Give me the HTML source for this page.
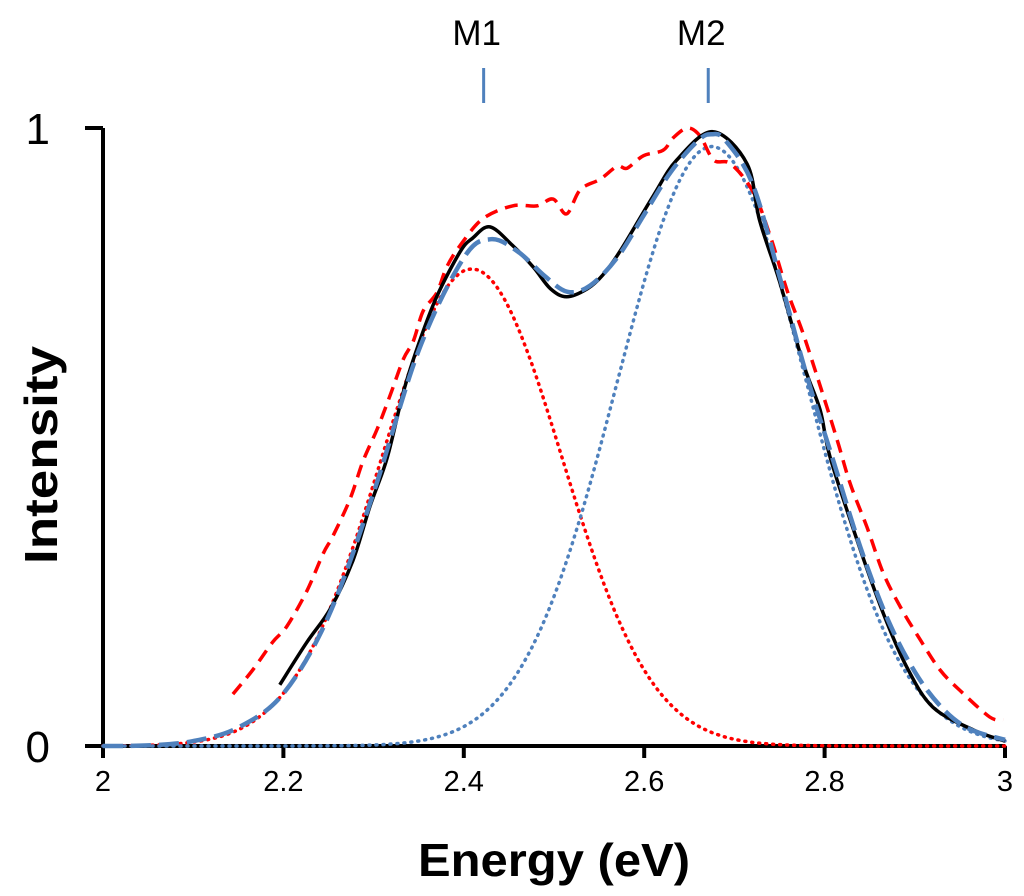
<!DOCTYPE html>
<html><head><meta charset="utf-8"><style>
html,body{margin:0;padding:0;background:#fff;}
svg{display:block;font-family:"Liberation Sans",sans-serif;}
</style></head><body>
<svg id="chart" width="1024" height="896" viewBox="0 0 1024 896">
<g id="plot"></g>
</svg>
<script>
const xTicks=[2,2.2,2.4,2.6,2.8,3];
const xTickLabels=["2","2.2","2.4","2.6","2.8","3"];
const yTicks=[0,1];
const yTickLabels=["0","1"];
const markerNames=["M1","M2"];
const markerPositions=[2.422,2.671];
const dataX=[2.196,2.226,2.252,2.277,2.296,2.315,2.333,2.351,2.37,2.396,2.41,2.429,2.454,2.477,2.496,2.514,2.537,2.554,2.573,2.61,2.636,2.676,2.714,2.728,2.75,2.776,2.795,2.806,2.836,2.865,2.891,2.92,2.965,3.0];
const dataY=[0.099,0.168,0.222,0.30,0.388,0.466,0.573,0.655,0.727,0.80,0.822,0.84,0.81,0.775,0.74,0.727,0.74,0.762,0.80,0.89,0.948,0.994,0.942,0.85,0.752,0.62,0.544,0.468,0.333,0.215,0.128,0.063,0.026,0.008];
const fitX=[2.0,2.05,2.1,2.15,2.2,2.25,2.3,2.35,2.4,2.43,2.46,2.49,2.515,2.54,2.57,2.6,2.63,2.66,2.675,2.69,2.72,2.75,2.78,2.81,2.84,2.87,2.9,2.93,2.96,3.0];
const fitY=[0.0,0.001,0.008,0.03,0.085,0.21,0.41,0.64,0.79,0.82,0.80,0.76,0.735,0.745,0.79,0.86,0.93,0.98,0.99,0.98,0.91,0.76,0.60,0.46,0.32,0.205,0.12,0.062,0.028,0.01];
const refX=[2.144,2.166,2.188,2.204,2.226,2.244,2.255,2.274,2.288,2.304,2.318,2.333,2.344,2.355,2.37,2.381,2.396,2.421,2.454,2.481,2.499,2.514,2.529,2.551,2.57,2.581,2.599,2.621,2.632,2.648,2.662,2.677,2.696,2.721,2.74,2.758,2.776,2.795,2.814,2.828,2.847,2.865,2.884,2.906,2.928,2.95,2.983,2.998];
const refY=[0.084,0.123,0.168,0.194,0.251,0.311,0.34,0.40,0.46,0.513,0.566,0.626,0.655,0.704,0.733,0.775,0.81,0.853,0.874,0.874,0.885,0.861,0.90,0.917,0.938,0.935,0.955,0.964,0.984,1.0,0.987,0.948,0.942,0.896,0.824,0.739,0.668,0.583,0.495,0.426,0.354,0.28,0.225,0.172,0.123,0.09,0.047,0.042];
const peakCenters=[2.409,2.675];
const peakAmps=[0.772,0.97];
const peakWidths=[0.0996,0.105];

const X0=103,X1=1005,Y0=746,Y1=128;
const sx=v=>X0+(v-2)/(3-2)*(X1-X0);
const sy=v=>Y0-(v-0)/(1-0)*(Y0-Y1);
const NS="http://www.w3.org/2000/svg";
const plot=document.getElementById('plot');
function mk(tag,attrs,parent){const e=document.createElementNS(NS,tag);for(const k in attrs)e.setAttribute(k,attrs[k]);(parent||plot).appendChild(e);return e;}
function smoothPath(xs,ys){
  let d="M"+sx(xs[0]).toFixed(1)+","+sy(ys[0]).toFixed(1);
  for(let i=0;i<xs.length-1;i++){
    const p0=[sx(xs[Math.max(0,i-1)]),sy(ys[Math.max(0,i-1)])],p1=[sx(xs[i]),sy(ys[i])],p2=[sx(xs[i+1]),sy(ys[i+1])],p3=[sx(xs[Math.min(xs.length-1,i+2)]),sy(ys[Math.min(xs.length-1,i+2)])];
    const c1=[p1[0]+(p2[0]-p0[0])/6,p1[1]+(p2[1]-p0[1])/6],c2=[p2[0]-(p3[0]-p1[0])/6,p2[1]-(p3[1]-p1[1])/6];
    d+=" C"+c1[0].toFixed(1)+","+c1[1].toFixed(1)+" "+c2[0].toFixed(1)+","+c2[1].toFixed(1)+" "+p2[0].toFixed(1)+","+p2[1].toFixed(1);
  }
  return d;
}
function gauss(k,x){return peakAmps[k]*Math.exp(-Math.pow(x-peakCenters[k],2)/(2*peakWidths[k]*peakWidths[k]));}
const gx=[];for(let i=0;i<=200;i++)gx.push(2+i*0.005);
function linePath(fn){return gx.map((x,i)=>(i?"L":"M")+sx(x).toFixed(1)+","+sy(fn(x)).toFixed(1)).join(" ");}

let e;
e=mk('line',{x1:X0,y1:Y1,x2:X0,y2:Y0+2,stroke:'#000','stroke-width':4});

e=mk('line',{x1:X0-2,y1:Y0,x2:X1,y2:Y0,stroke:'#000','stroke-width':4});

xTicks.forEach((t,i)=>{
  const l=mk('line',{x1:sx(t),y1:Y0,x2:sx(t),y2:Y0+12,stroke:'#000','stroke-width':4});
  
  const tx=mk('text',{x:sx(t),y:791,'text-anchor':'middle','font-size':29,fill:'#000'});
  tx.textContent=xTickLabels[i];
  
});
yTicks.forEach((t,i)=>{
  const l=mk('line',{x1:X0-18,y1:sy(t),x2:X0,y2:sy(t),stroke:'#000','stroke-width':4});
  
  const tx=mk('text',{x:50,y:sy(t)+16,'text-anchor':'end','font-size':44,fill:'#000'});
  tx.textContent=yTickLabels[i];
  
});
e=mk('text',{x:554,y:876,'text-anchor':'middle','font-size':46,'font-weight':'bold',fill:'#000',textLength:272,lengthAdjust:'spacingAndGlyphs'});
e.textContent='Energy (eV)';
e=mk('text',{x:0,y:0,'text-anchor':'middle','font-size':46,'font-weight':'bold',fill:'#000',textLength:218,lengthAdjust:'spacingAndGlyphs',transform:'translate(57,455) rotate(-90)'});
e.textContent='Intensity';
markerPositions.forEach((m,i)=>{
  const l=mk('line',{x1:sx(m),y1:68,x2:sx(m),y2:103,stroke:'#4f81bd','stroke-width':3});
  
  const tx=mk('text',{x:sx(m)-7,y:45,'text-anchor':'middle','font-size':35,fill:'#000'});
  tx.textContent=markerNames[i];
  
});
e=mk('path',{d:linePath(x=>gauss(0,x)),fill:'none',stroke:'#ff0000','stroke-width':3.5,'stroke-dasharray':'1 6','stroke-linecap':'round'});

e=mk('path',{d:linePath(x=>gauss(1,x)),fill:'none',stroke:'#4f81bd','stroke-width':3.5,'stroke-dasharray':'1 6','stroke-linecap':'round'});

e=mk('path',{d:smoothPath(refX,refY),fill:'none',stroke:'#ff0000','stroke-width':3.5,'stroke-dasharray':'13 8'});

e=mk('path',{d:smoothPath(dataX,dataY),fill:'none',stroke:'#000','stroke-width':3.5});

e=mk('path',{d:smoothPath(fitX,fitY),fill:'none',stroke:'#4f81bd','stroke-width':4.5,'stroke-dasharray':'20 8'});

</script>
</body></html>
